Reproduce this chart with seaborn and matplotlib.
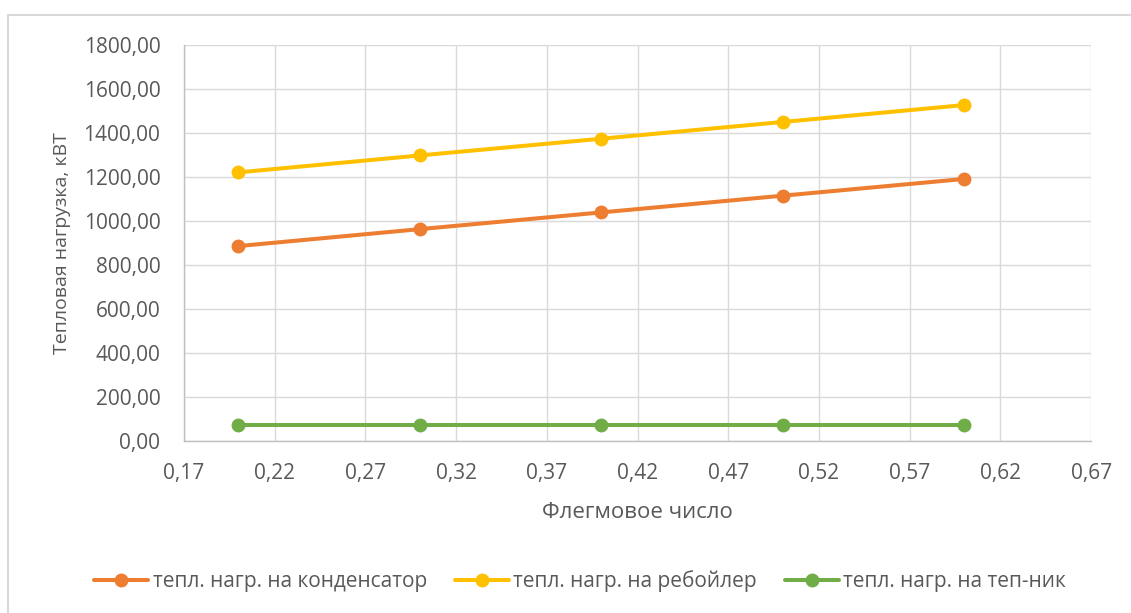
import matplotlib
matplotlib.use("Agg")
import matplotlib.pyplot as plt
from matplotlib.lines import Line2D
from matplotlib.ticker import FuncFormatter
import pandas as pd
import seaborn as sns

# Reflux ratio and heat duties, kW
reflux = [0.2, 0.3, 0.4, 0.5, 0.6]
q_condenser = [886, 963, 1039, 1115, 1191]
q_reboiler = [1221, 1298, 1374, 1450, 1527]
q_exchanger = [73, 73, 73, 73, 73]

x_ticks = [0.17, 0.22, 0.27, 0.32, 0.37, 0.42, 0.47, 0.52, 0.57, 0.62, 0.67]
y_ticks = [0, 200, 400, 600, 800, 1000, 1200, 1400, 1600, 1800]

series_names = [
    "тепл. нагр. на конденсатор",
    "тепл. нагр. на ребойлер",
    "тепл. нагр. на теп-ник",
]
colors = ["#ED7D31", "#FFC000", "#70AD47"]

df = pd.concat(
    [
        pd.DataFrame({"x": reflux, "y": vals, "series": name})
        for name, vals in zip(series_names, [q_condenser, q_reboiler, q_exchanger])
    ],
    ignore_index=True,
)

sns.set_theme(style="white")
plt.rcParams["font.family"] = ["Open Sans", "DejaVu Sans"]
text_color = "#595959"
grid_color = "#D9D9D9"

fig = plt.figure(figsize=(11.31, 6.13), dpi=100)
ax = fig.add_axes([0.1627, 0.2806, 0.802, 0.646])

line_w = 2.9
marker_s = 10
sns.lineplot(
    data=df, x="x", y="y", hue="series", palette=colors, ax=ax,
    marker="o", markersize=marker_s, markeredgewidth=0, linewidth=line_w,
    legend=False,
)

comma = FuncFormatter(lambda v, p: f"{v:.2f}".replace(".", ","))
ax.set_xlim(x_ticks[0], x_ticks[-1])
ax.set_ylim(y_ticks[0], y_ticks[-1])
ax.set_xticks(x_ticks)
ax.set_yticks(y_ticks)
ax.xaxis.set_major_formatter(comma)
ax.yaxis.set_major_formatter(comma)
ax.grid(True, color=grid_color, linewidth=1)
ax.set_axisbelow(True)
for side in ["top", "right"]:
    ax.spines[side].set_visible(False)
for side in ["left", "bottom"]:
    ax.spines[side].set_color("#BFBFBF")
    ax.spines[side].set_linewidth(1)
ax.tick_params(axis="both", length=0, labelsize=15, colors=text_color)
ax.tick_params(axis="x", pad=16)
ax.tick_params(axis="y", pad=17)

ax.set_xlabel("Флегмовое число", fontsize=16, color=text_color, labelpad=13)
ax.set_ylabel("Тепловая нагрузка, кВТ", fontsize=14, color=text_color, labelpad=9)

handles = [
    Line2D([], [], color=c, marker="o", markersize=marker_s, linewidth=line_w,
           markeredgewidth=0)
    for c in colors
]
fig.legend(
    handles, series_names, loc="center", bbox_to_anchor=(0.513, 0.052), ncol=3,
    frameon=False, fontsize=15, labelcolor=text_color, handlelength=2.6,
    handletextpad=0.2, columnspacing=1.35,
)

# Chart-area border (top and left edges fall inside the image)
W, H = 1131, 613
fig.add_artist(Line2D([8 / W, 1.0], [1 - 15 / H, 1 - 15 / H], transform=fig.transFigure,
                      color=grid_color, linewidth=1.5))
fig.add_artist(Line2D([8 / W, 8 / W], [0.0, 1 - 15 / H], transform=fig.transFigure,
                      color=grid_color, linewidth=1.5))

fig.savefig("out.png", dpi=100)
